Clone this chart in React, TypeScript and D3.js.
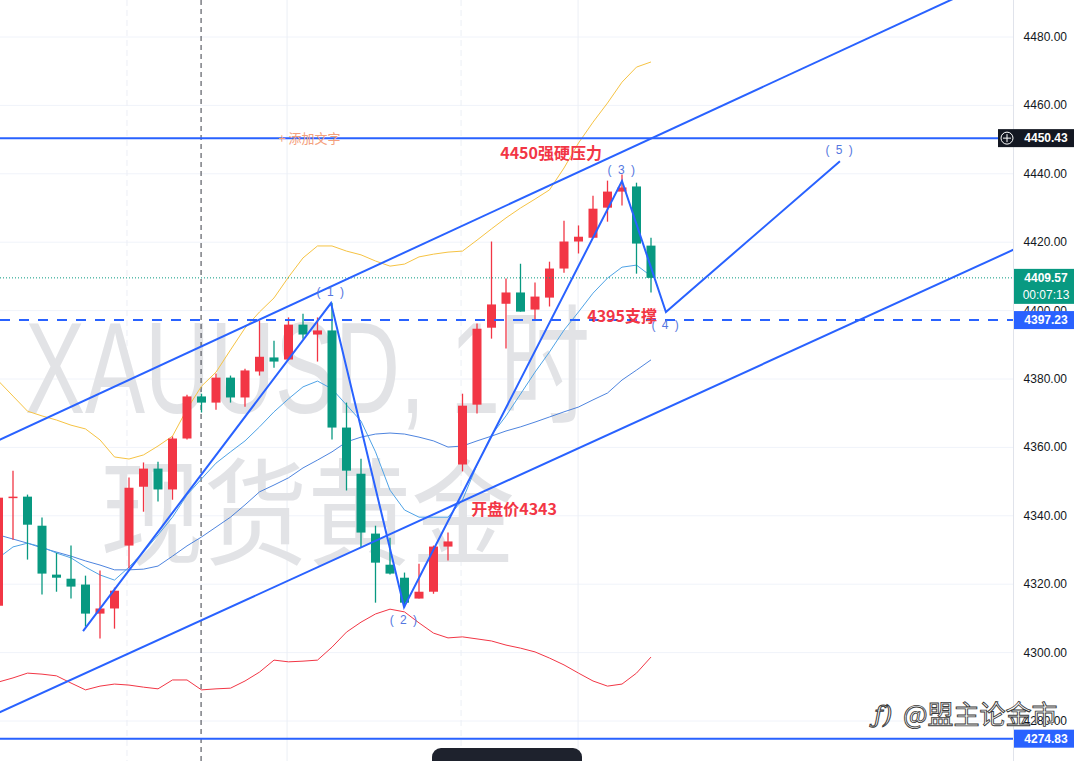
import React from 'react';
import * as d3 from 'd3';

const W = 1074;
const H = 761;
const PLOT_R = 1013;

// ---- Candles (1h XAUUSD) ----
const opens = [4313.7, 4345.3, 4345.6, 4337.1, 4322.8, 4321.6, 4319.9, 4311.4, 4312.9, 4331.3, 4348.5, 4353.8, 4347.7, 4362.6, 4374.9, 4373.1, 4380.4, 4374.6, 4382.2, 4386.3, 4385.7, 4395.9, 4393.0, 4394.2, 4365.8, 4352.3, 4334.8, 4325.7, 4321.9, 4315.8, 4317.8, 4331.0, 4355.0, 4372.5, 4395.0, 4402.0, 4405.3, 4400.3, 4403.8, 4412.3, 4420.2, 4421.3, 4430.1, 4434.8, 4436.3, 4419.0];
const highs = [4348.0, 4353.2, 4346.2, 4339.5, 4329.2, 4331.3, 4322.5, 4324.0, 4319.0, 4351.2, 4355.6, 4355.8, 4363.2, 4375.4, 4375.7, 4381.6, 4381.0, 4383.0, 4397.1, 4391.2, 4398.0, 4399.1, 4398.0, 4402.3, 4373.1, 4356.7, 4337.1, 4333.6, 4323.4, 4326.0, 4331.3, 4335.1, 4375.7, 4396.2, 4420.2, 4409.4, 4413.7, 4408.2, 4414.3, 4426.3, 4424.9, 4433.6, 4438.0, 4439.8, 4437.4, 4421.3];
const lows = [4312.0, 4333.0, 4327.2, 4317.0, 4317.8, 4315.8, 4307.6, 4304.1, 4307.0, 4324.6, 4341.2, 4344.2, 4344.7, 4362.3, 4370.2, 4371.0, 4373.1, 4371.9, 4381.0, 4383.3, 4385.5, 4391.8, 4385.1, 4362.3, 4347.4, 4330.7, 4314.6, 4322.8, 4313.2, 4315.8, 4317.2, 4326.9, 4353.0, 4369.9, 4391.8, 4388.9, 4399.7, 4397.4, 4401.2, 4411.1, 4416.7, 4421.3, 4426.0, 4430.7, 4410.8, 4405.3];
const closes = [4345.3, 4345.6, 4337.4, 4323.1, 4321.9, 4319.3, 4311.4, 4312.9, 4318.1, 4348.2, 4353.8, 4347.7, 4362.6, 4374.9, 4373.1, 4380.4, 4374.6, 4382.5, 4386.5, 4385.1, 4395.9, 4393.0, 4394.2, 4365.8, 4353.2, 4335.1, 4326.3, 4323.1, 4314.6, 4317.8, 4331.0, 4332.5, 4372.2, 4394.7, 4401.8, 4405.3, 4399.7, 4404.1, 4412.3, 4420.2, 4421.6, 4429.8, 4434.8, 4436.0, 4419.6, 4409.57];

// ---- Indicators ----
const bbUpper = [4379.4, 4375.0, 4370.6, 4369.2, 4368.0, 4366.5, 4365.4, 4362.2, 4357.2, 4356.6, 4357.8, 4360.4, 4363.3, 4371.2, 4377.9, 4382.0, 4388.5, 4394.9, 4399.6, 4403.7, 4409.8, 4415.4, 4418.9, 4418.9, 4417.4, 4416.3, 4414.5, 4413.0, 4413.6, 4415.7, 4416.5, 4417.1, 4417.4, 4420.6, 4423.9, 4427.1, 4430.0, 4432.6, 4435.3, 4441.7, 4449.0, 4455.1, 4460.7, 4466.8, 4471.2, 4472.7];
const bbBasis = [4334.4, 4333.2, 4332.0, 4330.6, 4329.4, 4328.2, 4326.8, 4325.6, 4324.2, 4324.2, 4324.4, 4325.3, 4328.2, 4331.2, 4333.8, 4336.7, 4339.6, 4343.2, 4347.0, 4349.0, 4351.1, 4354.0, 4356.3, 4358.7, 4361.6, 4363.0, 4363.9, 4364.2, 4363.9, 4363.0, 4361.9, 4360.1, 4360.4, 4361.9, 4363.3, 4364.8, 4366.0, 4367.4, 4368.9, 4370.4, 4371.8, 4373.9, 4375.9, 4379.7, 4382.6, 4385.6];
const bbLower = [4291.4, 4292.6, 4294.0, 4293.7, 4293.2, 4291.1, 4289.1, 4290.2, 4290.8, 4290.5, 4289.9, 4289.4, 4292.0, 4292.0, 4289.1, 4289.4, 4289.6, 4291.7, 4294.3, 4297.8, 4297.3, 4297.5, 4297.8, 4301.6, 4306.0, 4308.9, 4311.3, 4312.7, 4311.9, 4308.7, 4305.7, 4304.3, 4304.6, 4304.0, 4303.4, 4302.2, 4301.3, 4300.2, 4298.4, 4296.4, 4294.0, 4291.7, 4290.2, 4290.8, 4294.0, 4298.7];
const fastMA = [4327.7, 4330.9, 4332.0, 4330.9, 4329.1, 4327.7, 4325.0, 4322.7, 4321.2, 4325.0, 4329.4, 4334.4, 4339.6, 4346.1, 4350.8, 4355.4, 4358.7, 4361.9, 4366.0, 4370.4, 4374.2, 4377.7, 4379.4, 4377.1, 4372.4, 4367.7, 4358.7, 4347.5, 4341.7, 4339.6, 4339.6, 4339.6, 4344.6, 4354.9, 4363.6, 4369.2, 4375.6, 4382.0, 4387.9, 4394.3, 4399.6, 4405.1, 4409.5, 4412.7, 4413.3, 4410.1];

// ---- Axis ----
const yTicks = [4280, 4300, 4320, 4340, 4360, 4380, 4400, 4420, 4440, 4460, 4480];
const vGridIdx = [8.86, 19.9, 31.9, 39.97];
const sessionIdx = 13.97;

// ---- Drawings ----
const zigzag: [number, number][] = [[5.83, 4306.3], [22.93, 4402.2], [27.97, 4313.3], [43.0, 4437.9], [46.03, 4399.6], [58.03, 4443.7]];
const waveLabels = ['1', '2', '3', '4', '5'];
const waveAbove = [true, false, true, false, true];
const channelUpper: [number, number][] = [[0, 4362.1], [70, 4499.3]];
const channelLower: [number, number][] = [[0, 4282.4], [70, 4417.8]];
const resistance = 4450.43;
const support = 4397.23;
const lowLine = 4274.83;
const lastPrice = 4409.57;
const countdown = '00:07:13';

const notes = [
  { text: '4450强硬压力', idx: 34.6, price: 4444.3 },
  { text: '4395支撑', idx: 40.6, price: 4396.8 },
  { text: '开盘价4343', idx: 32.6, price: 4340.3 },
];

const RED = '#F23645';
const GREEN = '#089981';
const BLUE = '#2962FF';

export default function App() {
  const x = d3.scaleLinear().domain([0, 45]).range([-1.5, 651]);
  const y = d3.scaleLinear().domain([4280, 4480]).range([721, 37]);
  const bodyW = 9;

  const line = d3.line<number>().x((_, i) => x(i)).y((d) => y(d));
  const ptLine = d3.line<[number, number]>().x((d) => x(d[0])).y((d) => y(d[1]));

  const fmt = d3.format('.2f');

  return (
    <svg width={W} height={H} style={{ position: 'fixed', left: 0, top: 0, background: '#fff' }}>
      <defs>
        <clipPath id="plot">
          <rect x={0} y={0} width={PLOT_R} height={H} />
        </clipPath>
      </defs>
      <rect x={0} y={0} width={W} height={H} fill="#fff" />

      <g clipPath="url(#plot)">
        {/* grid */}
        {yTicks.map((t) => (
          <line key={t} x1={0} x2={PLOT_R} y1={y(t)} y2={y(t)} stroke="#f0f3fa" strokeWidth={1} />
        ))}
        {vGridIdx.map((v, i) => (
          <line key={i} x1={x(v)} x2={x(v)} y1={0} y2={H} stroke="#eceff5" strokeWidth={1} strokeDasharray={i % 2 === 0 ? '6,4' : undefined} />
        ))}

        {/* watermark */}
        <text x={25} y={413} fontFamily="'Liberation Sans', Arial, 'Noto Sans CJK SC', sans-serif" fontSize={130} fill="#e2e3e6" textLength={565} lengthAdjust="spacingAndGlyphs">XAUUSD, 1时</text>
        <text x={100} y={556} fontFamily="'Noto Sans CJK SC', sans-serif" fontSize={116} fill="#e2e3e6" textLength={415} lengthAdjust="spacingAndGlyphs">现货黄金</text>

        {/* session line */}
        <line x1={x(sessionIdx)} x2={x(sessionIdx)} y1={0} y2={H} stroke="#3a3d45" strokeWidth={1} strokeDasharray="5,4" />

        {/* indicators */}
        <path d={line(bbUpper) || ''} fill="none" stroke="#f6c343" strokeWidth={1} />
        <path d={line(bbLower) || ''} fill="none" stroke={RED} strokeWidth={1} />
        <path d={line(bbBasis) || ''} fill="none" stroke="#2f6fd8" strokeWidth={1} opacity={0.85} />
        <path d={line(fastMA) || ''} fill="none" stroke="#4fa3e6" strokeWidth={1} />

        {/* candles */}
        {opens.map((o, i) => {
          const c = closes[i];
          const up = c >= o;
          const col = up ? RED : GREEN;
          const top = y(Math.max(o, c));
          const bot = y(Math.min(o, c));
          return (
            <g key={i}>
              <line x1={x(i)} x2={x(i)} y1={y(highs[i])} y2={y(lows[i])} stroke={col} strokeWidth={1.3} />
              <rect x={x(i) - bodyW / 2} y={top} width={bodyW} height={Math.max(1.5, bot - top)} fill={col} />
            </g>
          );
        })}

        {/* horizontal lines */}
        <line x1={0} x2={PLOT_R} y1={y(lastPrice)} y2={y(lastPrice)} stroke={GREEN} strokeWidth={1} strokeDasharray="1,2" />
        <line x1={0} x2={PLOT_R} y1={y(resistance)} y2={y(resistance)} stroke={BLUE} strokeWidth={2} />
        <line x1={0} x2={PLOT_R} y1={y(support)} y2={y(support)} stroke={BLUE} strokeWidth={2} strokeDasharray="10,9" />
        <line x1={0} x2={PLOT_R} y1={y(lowLine)} y2={y(lowLine)} stroke={BLUE} strokeWidth={2} />

        {/* channel */}
        <path d={ptLine(channelUpper) || ''} fill="none" stroke={BLUE} strokeWidth={2} />
        <path d={ptLine(channelLower) || ''} fill="none" stroke={BLUE} strokeWidth={2} />

        {/* zigzag */}
        <path d={ptLine(zigzag) || ''} fill="none" stroke={BLUE} strokeWidth={2} strokeLinejoin="miter" />
        {waveLabels.map((lbl, k) => {
          const p = zigzag[k + 1];
          return (
            <text key={lbl} x={x(p[0])} y={y(p[1]) + (waveAbove[k] ? -7 : 17)} textAnchor="middle" fontFamily="'Liberation Sans', Arial, sans-serif" fontSize={12} fill="#5577e0" letterSpacing={1.5}>
              {`( ${lbl} )`}
            </text>
          );
        })}

        {/* add-text placeholder */}
        <text x={x(19.3)} y={y(resistance) + 5} fontFamily="'Noto Sans CJK SC', sans-serif" fontSize={13} fill="#f4a07c">+ 添加文字</text>

        {/* notes */}
        {notes.map((n) => (
          <text key={n.text} x={x(n.idx)} y={y(n.price)} fontFamily="'Noto Sans CJK SC', sans-serif" fontWeight={700} fontSize={16} fill={RED}>
            {n.text}
          </text>
        ))}
      </g>

      {/* right axis */}
      <line x1={PLOT_R + 0.5} x2={PLOT_R + 0.5} y1={0} y2={H} stroke="#e0e3eb" strokeWidth={1} />
      {yTicks.map((t) => (
        <text key={t} x={1067} y={y(t) + 4} textAnchor="end" fontFamily="'Liberation Sans', Arial, sans-serif" fontSize={12} fill="#131722">
          {fmt(t)}
        </text>
      ))}

      {/* price tags */}
      <rect x={998} y={y(resistance) - 9} width={W - 998} height={18} fill="#131722" />
      <circle cx={1007} cy={y(resistance)} r={6} fill="none" stroke="#fff" strokeWidth={1} />
      <line x1={1003} x2={1011} y1={y(resistance)} y2={y(resistance)} stroke="#fff" strokeWidth={1} />
      <line x1={1007} x2={1007} y1={y(resistance) - 4} y2={y(resistance) + 4} stroke="#fff" strokeWidth={1} />
      <text x={1046} y={y(resistance) + 4} textAnchor="middle" fontFamily="'Liberation Sans', Arial, sans-serif" fontSize={12} fontWeight={700} fill="#fff">{fmt(resistance)}</text>

      <rect x={1014} y={y(lastPrice) - 9} width={W - 1014} height={35} fill={GREEN} />
      <text x={1046} y={y(lastPrice) + 4} textAnchor="middle" fontFamily="'Liberation Sans', Arial, sans-serif" fontSize={12} fontWeight={700} fill="#fff">{fmt(lastPrice)}</text>
      <text x={1046} y={y(lastPrice) + 21} textAnchor="middle" fontFamily="'Liberation Sans', Arial, sans-serif" fontSize={12} fill="#fff">{countdown}</text>

      <rect x={1014} y={y(support) - 9} width={W - 1014} height={18} fill={BLUE} />
      <text x={1046} y={y(support) + 4} textAnchor="middle" fontFamily="'Liberation Sans', Arial, sans-serif" fontSize={12} fontWeight={700} fill="#fff">{fmt(support)}</text>

      <rect x={1014} y={y(lowLine) - 9} width={W - 1014} height={18} fill={BLUE} />
      <text x={1046} y={y(lowLine) + 4} textAnchor="middle" fontFamily="'Liberation Sans', Arial, sans-serif" fontSize={12} fontWeight={700} fill="#fff">{fmt(lowLine)}</text>

      {/* author watermark */}
      <text x={874} y={723} fontFamily="'DejaVu Serif', serif" fontStyle="italic" fontSize={24} fill="#fff" stroke="#3a3a3a" strokeWidth={1}>ƒ)</text>
      <text x={903} y={724} fontFamily="'Noto Sans CJK SC', sans-serif" fontSize={26} fill="#fff" stroke="#3a3a3a" strokeWidth={0.9}>@盟主论金市</text>

      {/* bottom toolbar */}
      <rect x={432} y={748} width={150} height={30} rx={9} fill="#1e222d" />
    </svg>
  );
}
